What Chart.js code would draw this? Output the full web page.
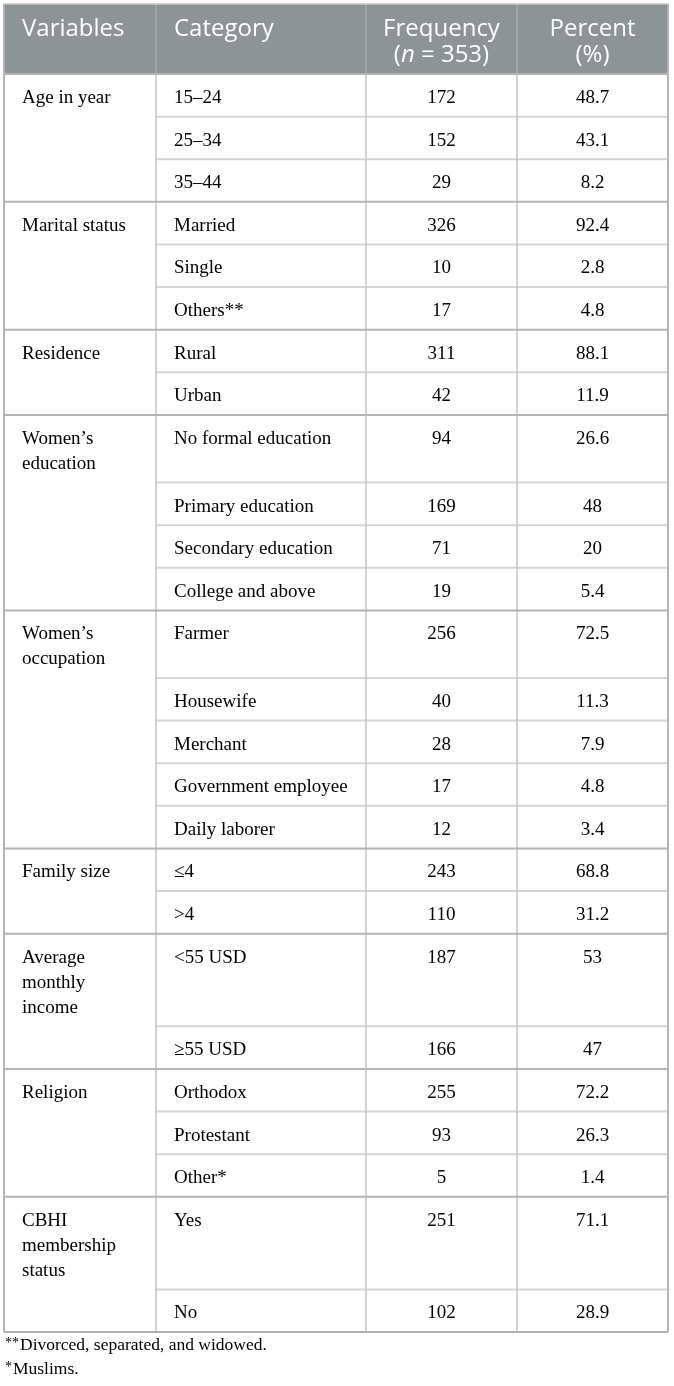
<!DOCTYPE html>
<html>
<head>
<meta charset="utf-8">
<script src="https://cdn.jsdelivr.net/npm/chart.js@4.4.1/dist/chart.umd.min.js"></script>
<style>
  html, body { margin: 0; padding: 0; background: #fff; overflow: hidden; }
  #wrap { position: relative; width: 674px; height: 1386px; }
  #tbl { position: absolute; left: 0; top: 0; }
  #notes { position: absolute; left: 5px; top: 1333px; font: 17.5px/23px "Liberation Serif", serif; color: #000; }
  #notes .ast { font-size: 14px; position: relative; top: -3px; margin-right: 1px; }
</style>
</head>
<body>
<div id="wrap">
  <canvas id="tbl" width="674" height="1336"></canvas>
  <div id="notes">
    <div><span class="ast">**</span>Divorced, separated, and widowed.</div>
    <div><span class="ast">*</span>Muslims.</div>
  </div>
</div>
<script>
// table content
const headers = [['Variables'], ['Category'], ['Frequency', '(*n* = 353)'], ['Percent', '(%)']];
const variables = [
    ['Age in year'], ['Marital status'], ['Residence'], ['Women’s', 'education'],
    ['Women’s', 'occupation'], ['Family size'], ['Average', 'monthly', 'income'],
    ['Religion'], ['CBHI', 'membership', 'status']
];
const categories = [
    ['15–24', '25–34', '35–44'],
    ['Married', 'Single', 'Others**'],
    ['Rural', 'Urban'],
    ['No formal education', 'Primary education', 'Secondary education', 'College and above'],
    ['Farmer', 'Housewife', 'Merchant', 'Government employee', 'Daily laborer'],
    ['≤4', '>4'],
    ['<55 USD', '≥55 USD'],
    ['Orthodox', 'Protestant', 'Other*'],
    ['Yes', 'No']
];
const frequency = [[172, 152, 29], [326, 10, 17], [311, 42], [94, 169, 71, 19], [256, 40, 28, 17, 12], [243, 110], [187, 166], [255, 93, 5], [251, 102]];
const percent = [[48.7, 43.1, 8.2], [92.4, 2.8, 4.8], [88.1, 11.9], [26.6, 48, 20, 5.4], [72.5, 11.3, 7.9, 4.8, 3.4], [68.8, 31.2], [53, 47], [72.2, 26.3, 1.4], [71.1, 28.9]];

// layout
const COL_W = [152, 210, 151, 151];
const HEAD_H = 70, ROW_H = 42.6, LINE_H = 25, PAD_X = 18, BASE = 29;
const HEAD_BASE = 32, HEAD_LINE = 26;

const colLeft = [];
let acc = 0;
COL_W.forEach(w => { colLeft.push(acc); acc += w; });
const totalW = acc;

// row tops; the first row of a group grows with the variable's line count
const rows = [];
const groupTop = [];
let yy = HEAD_H;
variables.forEach((v, g) => {
    groupTop.push(yy);
    categories[g].forEach((c, i) => {
        const h = ROW_H + (i === 0 ? (v.length - 1) * LINE_H : 0);
        rows.push({ g: g, i: i, top: yy });
        yy += h;
    });
});
const totalH = yy;

function alignOf(col){ return col < 2 ? 'left' : 'center'; }
function anchorX(col){
    return col < 2 ? colLeft[col] + PAD_X : colLeft[col] + COL_W[col] / 2;
}

const headerCells = headers.map((h, c) => ({ x: anchorX(c), y: HEAD_BASE, lines: h, align: alignOf(c) }));
const varCells = variables.map((v, g) => ({ x: anchorX(0), y: groupTop[g] + BASE, lines: v, align: 'left' }));
const catCells = rows.map(r => ({ x: anchorX(1), y: r.top + BASE, lines: [categories[r.g][r.i]], align: 'left' }));
const freqCells = rows.map(r => ({ x: anchorX(2), y: r.top + BASE, lines: [String(frequency[r.g][r.i])], align: 'center' }));
const pctCells = rows.map(r => ({ x: anchorX(3), y: r.top + BASE, lines: [String(percent[r.g][r.i])], align: 'center' }));

const SERIF = '19px "Liberation Serif", "Times New Roman", serif';
const SANS = '24px "Open Sans", "Noto Sans", sans-serif';

function cellSet(label, data, font, color, step, rich){
    return { label: label, data: data, font: font, color: color, step: step, rich: rich,
             pointRadius: 0, pointHoverRadius: 0, showLine: false };
}

function drawRich(ctx, text, x, y, align, font){
    // *word* marks italic pieces
    const parts = text.split('*').map((t, k) => ({ t: t, it: k % 2 === 1 }));
    let w = 0;
    parts.forEach(p => { ctx.font = (p.it ? 'italic ' : '') + font; p.w = ctx.measureText(p.t).width; w += p.w; });
    let cx = align === 'center' ? x - w / 2 : x;
    ctx.textAlign = 'left';
    parts.forEach(p => { ctx.font = (p.it ? 'italic ' : '') + font; ctx.fillText(p.t, cx, y); cx += p.w; });
}

const tablePlugin = {
    id: 'tablePlugin',
    beforeDatasetsDraw(chart){
        const ctx = chart.ctx;
        const xs = chart.scales.x, ys = chart.scales.y;
        const px = v => xs.getPixelForValue(v);
        const py = v => ys.getPixelForValue(v);
        ctx.save();
        // header band
        ctx.fillStyle = '#8e9395';
        ctx.fillRect(px(0), py(0), px(totalW) - px(0), py(HEAD_H) - py(0));

        function hline(y, x0, x1, color, lw){
            ctx.strokeStyle = color; ctx.lineWidth = lw;
            ctx.beginPath(); ctx.moveTo(px(x0), py(y)); ctx.lineTo(px(x1), py(y)); ctx.stroke();
        }
        function vline(x, y0, y1, color, lw){
            ctx.strokeStyle = color; ctx.lineWidth = lw;
            ctx.beginPath(); ctx.moveTo(px(x), py(y0)); ctx.lineTo(px(x), py(y1)); ctx.stroke();
        }
        rows.forEach(r => { if (r.i > 0) hline(r.top, colLeft[1], totalW, '#d5d5d5', 2); });
        for (let c = 1; c < COL_W.length; c++){
            vline(colLeft[c], 0, HEAD_H, 'rgba(255,255,255,0.22)', 1.5);
            vline(colLeft[c], HEAD_H, totalH, '#c4c4c4', 1.5);
        }
        groupTop.forEach(t => hline(t, 0, totalW, '#b3b3b3', 2));
        // outer frame
        hline(0, 0, totalW, '#c9c9c9', 1.5);
        hline(totalH, 0, totalW, '#b0b0b0', 2);
        vline(0, 0, totalH, '#b5b5b5', 2);
        vline(totalW, 0, totalH, '#b5b5b5', 2);
        ctx.restore();
    },
    afterDatasetsDraw(chart){
        const ctx = chart.ctx;
        ctx.save();
        ctx.textBaseline = 'alphabetic';
        chart.data.datasets.forEach((ds, di) => {
            const meta = chart.getDatasetMeta(di);
            ctx.fillStyle = ds.color;
            meta.data.forEach((el, k) => {
                const cell = ds.data[k];
                cell.lines.forEach((line, li) => {
                    const y = el.y + li * ds.step;
                    if (ds.rich){
                        drawRich(ctx, line, el.x, y, cell.align, ds.font);
                    } else {
                        ctx.font = ds.font;
                        ctx.textAlign = cell.align;
                        ctx.fillText(line, el.x, y);
                    }
                });
            });
        });
        ctx.restore();
    }
};

new Chart(document.getElementById('tbl'), {
    type: 'scatter',
    data: {
        datasets: [
            cellSet('Header', headerCells, SANS, '#ffffff', HEAD_LINE, true),
            cellSet('Variables', varCells, SERIF, '#000000', LINE_H, false),
            cellSet('Category', catCells, SERIF, '#000000', LINE_H, false),
            cellSet('Frequency', freqCells, SERIF, '#000000', LINE_H, false),
            cellSet('Percent', pctCells, SERIF, '#000000', LINE_H, false)
        ]
    },
    options: {
        responsive: false,
        animation: false,
        events: [],
        layout: { padding: { left: 4, top: 4, right: 6, bottom: 4 } },
        scales: {
            x: { type: 'linear', min: 0, max: totalW, display: false },
            y: { type: 'linear', min: 0, max: totalH, reverse: true, display: false }
        },
        plugins: { legend: { display: false }, tooltip: { enabled: false } }
    },
    plugins: [tablePlugin]
});
</script>
</body>
</html>
